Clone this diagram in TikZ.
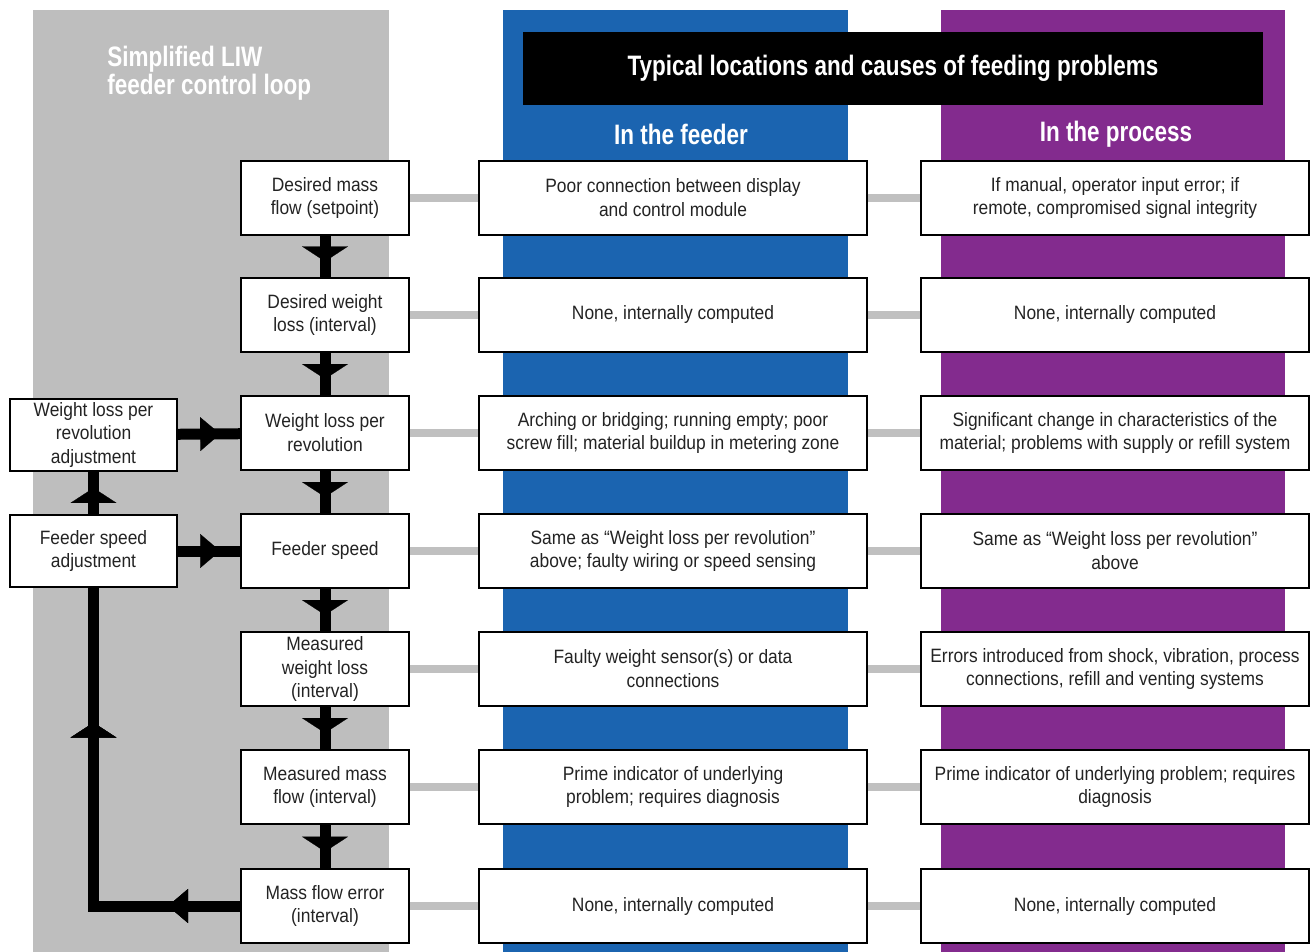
\documentclass[tikz,border=0pt]{standalone}
\usepackage{fontspec}
\setmainfont[FakeStretch=0.9]{Liberation Sans}
\newfontfamily\headfont[FakeStretch=0.8]{Liberation Sans}
\usetikzlibrary{arrows.meta,decorations.markings}
\definecolor{loopgray}{RGB}{190,190,190}
\definecolor{feederblue}{RGB}{27,100,176}
\definecolor{processpurple}{RGB}{131,43,142}
\definecolor{linkgray}{RGB}{192,192,192}
\definecolor{boxtext}{RGB}{35,35,35}

\begin{document}
\begin{tikzpicture}[x=0.02cm,y=-0.02cm,
    box/.style={draw=black, line width=1.1pt, fill=white, text=boxtext, align=center,
        inner sep=0pt, minimum height=1.48cm, font=\fontsize{11}{13.6}\selectfont},
    loopbox/.style={box, minimum width=3.36cm},
    causebox/.style={box, minimum width=7.76cm},
    sidebox/.style={box, minimum width=3.34cm, minimum height=1.44cm},
    heading/.style={text=white, font=\headfont\bfseries\fontsize{16}{13.2}\selectfont},
    link/.style={linkgray, line width=0.15cm},
    flow/.style={black, line width=0.22cm},
    vhead/.style={postaction={decorate}, decoration={markings, mark=at position #1 with
        {\arrow{Triangle[length=0.3cm, width=0.92cm, line width=0.1pt]}}}},
    hhead/.style={postaction={decorate}, decoration={markings, mark=at position #1 with
        {\arrow{Triangle[length=0.4cm, width=0.68cm, line width=0.1pt]}}}}]
        \useasboundingbox (0,0) rectangle (1314,952);
        % column backgrounds
        \fill [loopgray] (33,10) rectangle (389,952);
        \fill [feederblue] (503,10) rectangle (848,952);
        \fill [processpurple] (941,10) rectangle (1285,952);

        \node[heading, align=left, anchor=west, inner sep=0pt] (looptitle) at (107,73) {Simplified LIW\\feeder control loop};
        \node[heading, fill=black, minimum width=14.8cm, minimum height=1.46cm] (header) at (893,68.5)
        {Typical locations and causes of feeding problems};
        \node[heading] (feedertitle) at (681,134) {In the feeder};
        \node[heading] (processtitle) at (1116,134) {In the process};

        % control loop
        \node[loopbox] (setpoint) at (325,198) {Desired mass\\flow (setpoint)};
        \node[loopbox] (desloss) at (325,315) {Desired weight\\loss (interval)};
        \node[loopbox] (revloss) at (325,433) {Weight loss per\\revolution};
        \node[loopbox] (speed) at (325,551) {Feeder speed};
        \node[loopbox] (measloss) at (325,669) {Measured\\weight loss\\(interval)};
        \node[loopbox] (measflow) at (325,787) {Measured mass\\flow (interval)};
        \node[loopbox] (error) at (325,906) {Mass flow error\\(interval)};
        \node[sidebox] (revadjust) at (93.5,435) {Weight loss per\\revolution\\adjustment};
        \node[sidebox] (speedadjust) at (93.5,551) {Feeder speed\\adjustment};

        % in the feeder
        \node[causebox] (feeder1) at (673,198) {Poor connection between display\\and control module};
        \node[causebox] (feeder2) at (673,315) {None, internally computed};
        \node[causebox] (feeder3) at (673,433) {Arching or bridging; running empty; poor\\screw fill; material buildup in metering zone};
        \node[causebox] (feeder4) at (673,551) {Same as “Weight loss per revolution”\\above; faulty wiring or speed sensing};
        \node[causebox] (feeder5) at (673,669) {Faulty weight sensor(s) or data\\connections};
        \node[causebox] (feeder6) at (673,787) {Prime indicator of underlying\\problem; requires diagnosis};
        \node[causebox] (feeder7) at (673,906) {None, internally computed};

        % in the process
        \node[causebox] (process1) at (1115,198) {If manual, operator input error; if\\remote, compromised signal integrity};
        \node[causebox] (process2) at (1115,315) {None, internally computed};
        \node[causebox] (process3) at (1115,433) {Significant change in characteristics of the\\material; problems with supply or refill system};
        \node[causebox] (process4) at (1115,551) {Same as “Weight loss per revolution”\\above};
        \node[causebox] (process5) at (1115,669) {Errors introduced from shock, vibration, process\\connections, refill and venting systems};
        \node[causebox] (process6) at (1115,787) {Prime indicator of underlying problem; requires\\diagnosis};
        \node[causebox] (process7) at (1115,906) {None, internally computed};

        \draw[link] (setpoint) -- (feeder1);
        \draw[link] (desloss) -- (feeder2);
        \draw[link] (revloss) -- (feeder3);
        \draw[link] (speed) -- (feeder4);
        \draw[link] (measloss) -- (feeder5);
        \draw[link] (measflow) -- (feeder6);
        \draw[link] (error) -- (feeder7);
        \draw[link] (feeder1) -- (process1);
        \draw[link] (feeder2) -- (process2);
        \draw[link] (feeder3) -- (process3);
        \draw[link] (feeder4) -- (process4);
        \draw[link] (feeder5) -- (process5);
        \draw[link] (feeder6) -- (process6);
        \draw[link] (feeder7) -- (process7);

        \draw[flow, vhead=0.62] (setpoint.south) -- (desloss.north);
        \draw[flow, vhead=0.62] (desloss.south) -- (revloss.north);
        \draw[flow, vhead=0.62] (revloss.south) -- (speed.north);
        \draw[flow, vhead=0.62] (speed.south) -- (measloss.north);
        \draw[flow, vhead=0.62] (measloss.south) -- (measflow.north);
        \draw[flow, vhead=0.62] (measflow.south) -- (error.north);
        \draw[flow, hhead=0.68] (revadjust) -- (revloss);
        \draw[flow, hhead=0.68] (speedadjust) -- (speed);
        \draw[flow, vhead=0.62] (speedadjust.north) -- (revadjust.south);
        \coordinate (loopcorner) at (error.west -| speedadjust.south);
        \draw[flow, hhead=1.44cm, vhead=6.6cm] (error.west) -- (loopcorner) -- (speedadjust.south);
\end{tikzpicture}
\end{document}
